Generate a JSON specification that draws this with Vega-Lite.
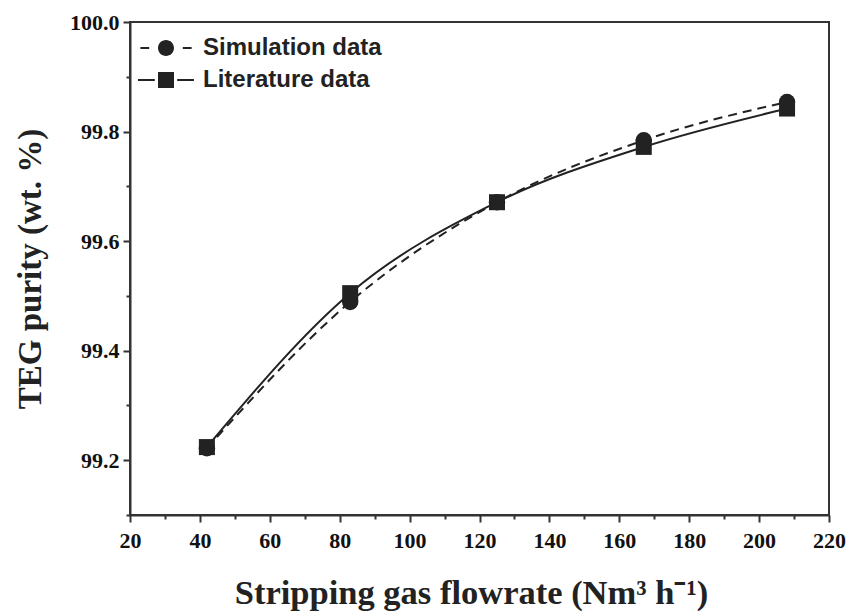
{
  "$schema": "https://vega.github.io/schema/vega-lite/v6.json",
  "width": 699,
  "height": 493,
  "autosize": "none",
  "padding": {"left": 130, "top": 22, "right": 23, "bottom": 100},
  "background": "white",
  "config": {
    "view": {"stroke": "#333", "strokeWidth": 2},
    "axis": {"grid": false, "labelFont": "Liberation Serif", "labelFontWeight": "bold", "labelFontSize": 22, "labelColor": "#111"}
  },
  "data": {
    "values": [
      {"flow": 42, "purity": 99.222, "series": "Simulation data"},
      {"flow": 83, "purity": 99.489, "series": "Simulation data"},
      {"flow": 125, "purity": 99.671, "series": "Simulation data"},
      {"flow": 167, "purity": 99.784, "series": "Simulation data"},
      {"flow": 208, "purity": 99.854, "series": "Simulation data"},
      {"flow": 42, "purity": 99.224, "series": "Literature data"},
      {"flow": 83, "purity": 99.505, "series": "Literature data"},
      {"flow": 125, "purity": 99.671, "series": "Literature data"},
      {"flow": 167, "purity": 99.772, "series": "Literature data"},
      {"flow": 208, "purity": 99.842, "series": "Literature data"}
    ]
  },
  "encoding": {
    "x": {
      "field": "flow", "type": "quantitative",
      "scale": {"domain": [20, 220], "nice": false, "zero": false},
      "axis": {
        "title": "Stripping gas flowrate (Nm³ h⁻¹)",
        "titleFont": "Liberation Serif", "titleFontSize": 34.5, "titleFontWeight": "bold", "titleColor": "#222",
        "titlePadding": 25, "titleX": 341, "titleAlign": "center",
        "values": [20,30,40,50,60,70,80,90,100,110,120,130,140,150,160,170,180,190,200,210,220],
        "labelExpr": "datum.value % 20 === 0 ? datum.label : ''",
        "tickSize": {"condition": {"test": "datum.value % 20 === 0", "value": 7}, "value": 4},
        "labelFont": "Liberation Serif", "labelFontSize": 22, "labelFontWeight": "bold", "labelColor": "#111",
        "labelPadding": 8, "labelFlush": false, "labelOverlap": false,
        "domainColor": "#333", "domainWidth": 2, "tickColor": "#333", "tickWidth": 2
      }
    },
    "y": {
      "field": "purity", "type": "quantitative",
      "scale": {"domain": [99.1, 100.0], "nice": false, "zero": false},
      "axis": {
        "title": "TEG purity (wt. %)",
        "titleFont": "Liberation Serif", "titleFontSize": 33, "titleFontWeight": "bold", "titleColor": "#222",
        "titlePadding": 22,
        "values": [99.1,99.2,99.3,99.4,99.5,99.6,99.7,99.8,99.9,100.0],
        "format": ".1f",
        "labelExpr": "round(datum.value * 10) % 2 === 0 ? datum.label : ''",
        "tickSize": {"condition": {"test": "round(datum.value * 10) % 2 === 0", "value": 7}, "value": 4},
        "labelFont": "Liberation Serif", "labelFontSize": 22, "labelFontWeight": "bold", "labelColor": "#111",
        "labelPadding": 4, "labelFlush": false, "labelOverlap": false,
        "domainColor": "#333", "domainWidth": 2, "tickColor": "#333", "tickWidth": 2
      }
    }
  },
  "layer": [
    {
      "transform": [{"filter": "datum.series === 'Simulation data'"}],
      "mark": {"type": "line", "interpolate": "monotone", "color": "#222", "strokeWidth": 2, "strokeDash": [9, 6]}
    },
    {
      "transform": [{"filter": "datum.series === 'Literature data'"}],
      "mark": {"type": "line", "interpolate": "monotone", "color": "#222", "strokeWidth": 2}
    },
    {
      "transform": [{"filter": "datum.series === 'Simulation data'"}],
      "mark": {"type": "point", "shape": "circle", "filled": true, "color": "#222", "opacity": 1, "size": 270}
    },
    {
      "transform": [{"filter": "datum.series === 'Literature data'"}],
      "mark": {"type": "point", "shape": "square", "filled": true, "color": "#222", "opacity": 1, "size": 256}
    },
    {
      "mark": {"type": "point", "filled": true, "color": "#222", "opacity": 0, "size": 256},
      "encoding": {
        "shape": {
          "field": "series", "type": "nominal",
          "scale": {
            "domain": ["Simulation data", "Literature data"],
            "range": [
              "M-3.2,-0.13H-2.1V0.13H-3.2ZM2.1,-0.13H3.2V0.13H2.1ZM1,0A1,1,0,1,1,-1,0A1,1,0,1,1,1,0Z",
              "M-3.5,-0.13H-1.4V0.13H-3.5ZM1.4,-0.13H3.5V0.13H1.4ZM-1,-1H1V1H-1Z"
            ]
          },
          "legend": {
            "title": null,
            "orient": "none",
            "legendX": 24,
            "legendY": 14,
            "padding": 0,
            "symbolSize": 256,
            "symbolOpacity": 1,
            "symbolFillColor": "#222",
            "symbolStrokeColor": "#222",
            "symbolStrokeWidth": 0,
            "labelFont": "Liberation Sans",
            "labelFontSize": 24,
            "labelFontWeight": "bold",
            "labelColor": "#222",
            "labelOffset": 25,
            "rowPadding": 8,
            "labelLimit": 400
          }
        }
      }
    }
  ]
}
